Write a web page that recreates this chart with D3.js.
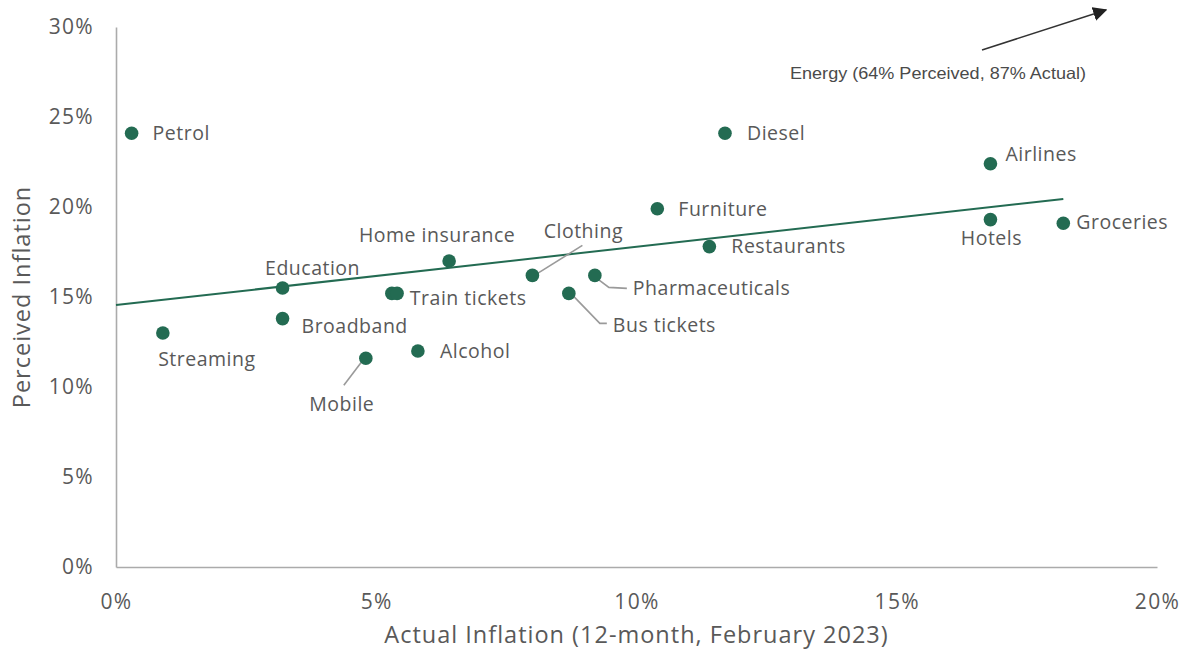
<!DOCTYPE html>
<html><head><meta charset="utf-8">
<script src="https://cdn.jsdelivr.net/npm/d3@7"></script>
<style>body{margin:0;background:#fff}svg{display:block}</style>
</head><body><svg id="c" width="1186" height="653"></svg>
<script>
const categories = ["Petrol","Diesel","Airlines","Hotels","Groceries","Furniture","Restaurants","Home insurance","Clothing","Pharmaceuticals","Bus tickets","Train tickets","Train tickets","Education","Broadband","Streaming","Mobile","Alcohol"];
const actual =    [0.3, 11.7, 16.8, 16.8, 18.2, 10.4, 11.4, 6.4, 8.0, 9.2, 8.7, 5.3, 5.4, 3.2, 3.2, 0.9, 4.8, 5.8];
const perceived = [24.1, 24.1, 22.4, 19.3, 19.1, 19.9, 17.8, 17.0, 16.2, 16.2, 15.2, 15.2, 15.2, 15.5, 13.8, 13.0, 11.6, 12.0];
const trendX = [0, 18.2];
const trendY = [14.55, 20.45];
const xTicks = [0, 5, 10, 15, 20];
const yTicks = [0, 5, 10, 15, 20, 25, 30];
const energyNote = "Energy (64% Perceived, 87% Actual)";

// label layout (offsets from point, px) — presentation only
const labelLayout = {
  "Petrol":[21,0,"start"], "Diesel":[22,0,"start"], "Airlines":[15,-10,"start"],
  "Hotels":[1,19,"middle"], "Groceries":[13,-1,"start"], "Furniture":[21,0,"start"],
  "Restaurants":[22,0,"start"], "Home insurance":[-12,-26,"middle"],
  "Clothing":[51,-44,"middle"], "Pharmaceuticals":[38,13,"start"],
  "Bus tickets":[44,32,"start"], "Train tickets":[18,5,"start"],
  "Education":[30,-20,"middle"], "Broadband":[19,8,"start"], "Streaming":[44,26,"middle"],
  "Mobile":[-24,46,"middle"], "Alcohol":[22,0,"start"]
};
const leaders = {
  "Clothing":[[2,0],[50,-30]],
  "Pharmaceuticals":[[2,3],[14,12],[32,13]],
  "Bus tickets":[[1,-1],[31,30],[38,30]],
  "Mobile":[[-3,2],[-22,27]]
};

const svg = d3.select("#c");
const m={l:116,r:1157,t:27,b:567};
const x=d3.scaleLinear().domain([0,20]).range([m.l,m.r]);
const y=d3.scaleLinear().domain([0,30]).range([m.b,m.t]);
const green="#236b52", gray="#595959", font="'Open Sans', sans-serif";

// axes
const xa=svg.append("g").attr("transform",`translate(0,${m.b})`)
  .call(d3.axisBottom(x).tickValues(xTicks).tickFormat(d=>d+"%").tickSize(0).tickPadding(27));
const ya=svg.append("g").attr("transform",`translate(${m.l},0)`)
  .call(d3.axisLeft(y).tickValues(yTicks).tickFormat(d=>d+"%").tickSize(0).tickPadding(22));
[xa,ya].forEach(a=>{
  a.select(".domain").attr("stroke","#ababab").attr("stroke-width",1.6);
  a.selectAll("text").attr("fill",gray).attr("font-family",font).attr("font-size",21).attr("letter-spacing",1.3);
});

// titles
svg.append("text").attr("x",(m.l+m.r)/2).attr("y",643).attr("text-anchor","middle")
  .attr("fill",gray).attr("font-family",font).attr("font-size",23.5).attr("letter-spacing",1)
  .text("Actual Inflation (12-month, February 2023)");
svg.append("text").attr("transform",`translate(30,${(m.t+m.b)/2}) rotate(-90)`).attr("text-anchor","middle")
  .attr("fill",gray).attr("font-family",font).attr("font-size",23.5).attr("letter-spacing",1)
  .text("Perceived Inflation");

// trend line
svg.append("line").attr("x1",x(trendX[0])).attr("y1",y(trendY[0])).attr("x2",x(trendX[1])).attr("y2",y(trendY[1]))
  .attr("stroke",green).attr("stroke-width",2);

const pts = categories.map((c,i)=>({c,ax:actual[i],py:perceived[i]}));

// leader lines
Object.entries(leaders).forEach(([c,path])=>{
  const p=pts.find(d=>d.c===c);
  svg.append("path").attr("d",d3.line()(path.map(q=>[x(p.ax)+q[0],y(p.py)+q[1]])))
    .attr("fill","none").attr("stroke","#9a9a9a").attr("stroke-width",1.6);
});

// dots
svg.selectAll("circle.pt").data(pts).join("circle").attr("class","pt")
  .attr("cx",d=>x(d.ax)).attr("cy",d=>y(d.py)).attr("r",6.8).attr("fill",green);

// labels
const seen=new Set();
pts.forEach(p=>{
  if(seen.has(p.c))return; seen.add(p.c);
  const L=labelLayout[p.c];
  svg.append("text").attr("x",x(p.ax)+L[0]).attr("y",y(p.py)+L[1]).attr("dy","0.35em")
    .attr("text-anchor",L[2]).attr("fill",gray).attr("font-family",font).attr("font-size",19.5)
    .attr("letter-spacing",0.5).text(p.c);
});

// energy annotation
const defs=svg.append("defs");
defs.append("marker").attr("id","ah").attr("viewBox","0 0 10 10").attr("refX",9).attr("refY",5)
  .attr("markerWidth",9.5).attr("markerHeight",9.5).attr("orient","auto")
  .append("path").attr("d","M0,0 L10,5 L0,10 z").attr("fill","#222");
svg.append("line").attr("x1",982).attr("y1",50).attr("x2",1106).attr("y2",10)
  .attr("stroke","#333").attr("stroke-width",1.5).attr("marker-end","url(#ah)");
svg.append("text").attr("x",938).attr("y",79).attr("text-anchor","middle").attr("fill","#4a4a4a")
  .attr("font-family","'Liberation Sans', sans-serif").attr("font-size",16.5)
  .attr("textLength",296).attr("lengthAdjust","spacingAndGlyphs").text(energyNote);
</script></body></html>
